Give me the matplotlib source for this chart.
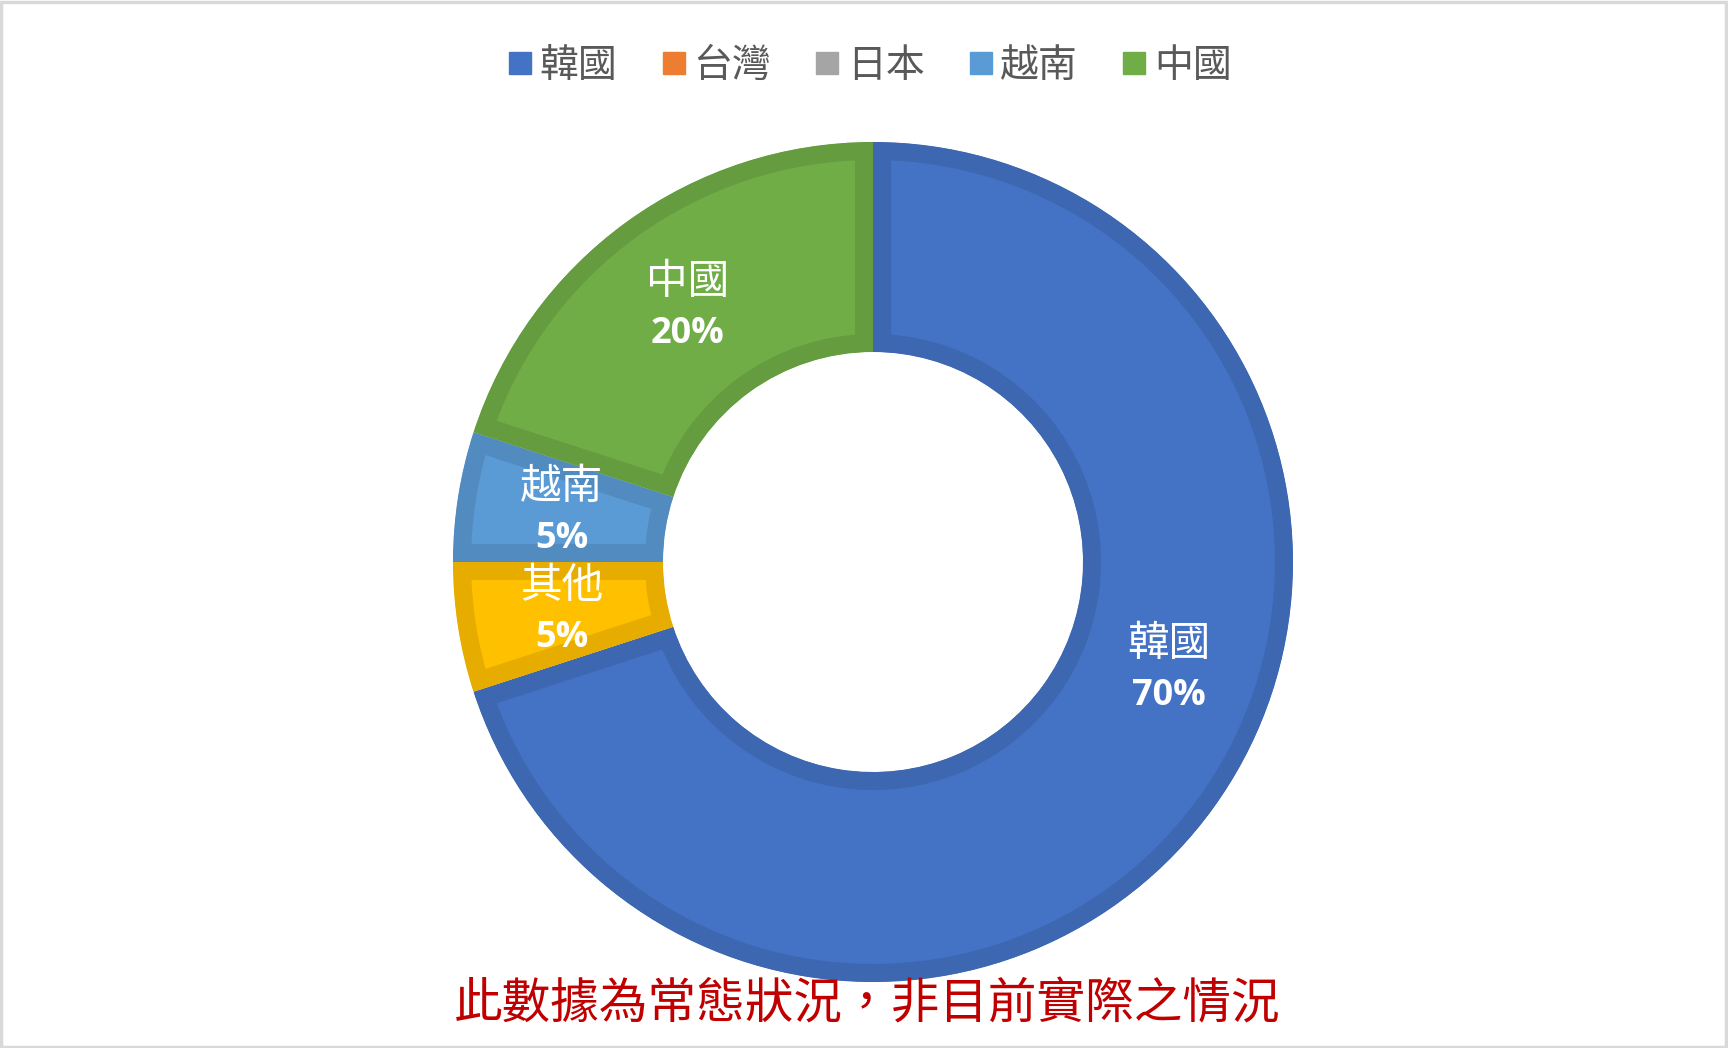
import matplotlib.pyplot as plt
import matplotlib.colors as mcolors
from matplotlib.patches import Rectangle
import numpy as np

plt.rcParams['font.family'] = ['Noto Sans CJK TC', 'DejaVu Sans']

# data (clockwise from 12 o'clock, Excel order)
categories = ['韓國', '台灣', '日本', '其他', '越南', '中國']
values = [70, 0, 0, 5, 5, 20]
colors = ['#4472C4', '#ED7D31', '#A5A5A5', '#FFC000', '#5B9BD5', '#70AD47']
legend_items = ['韓國', '台灣', '日本', '越南', '中國']
pct_labels = ['70%', '0%', '0%', '5%', '5%', '20%']
# the 韓國 label was dragged a bit away from the slice middle in the original
label_shift = {'韓國': 16}

W, H = 1728, 1048
fig = plt.figure(figsize=(W / 100, H / 100), dpi=100)
fig.patch.set_facecolor('white')

# chart frame
fig.patches.append(Rectangle((0.0008, 0.0012), 0.998, 0.997, transform=fig.transFigure,
                             facecolor='none', edgecolor='#D9D9D9', linewidth=2.5))

cx, cy, R = 873, 562, 420
ax = fig.add_axes([(cx - R) / W, (H - cy - R) / H, 2 * R / W, 2 * R / H])

shown = [i for i, v in enumerate(values) if v > 0]
wedges, _ = ax.pie([values[i] for i in shown], colors=[colors[i] for i in shown],
                   startangle=90, counterclock=False, radius=1.0,
                   wedgeprops=dict(width=0.5))


def darker(c, f=0.9):
    r, g, b = mcolors.to_rgb(c)
    return (r * f, g * f, b * f)


for w, i in zip(wedges, shown):
    # inner border: stroke twice as wide, clipped to the slice itself
    w.set_edgecolor(darker(colors[i]))
    w.set_linewidth(26)
    w.set_clip_on(True)
    w.set_clip_path(w)

    ang = (w.theta1 + w.theta2) / 2 + label_shift.get(categories[i], 0)
    lx = 0.75 * np.cos(np.radians(ang))
    ly = 0.75 * np.sin(np.radians(ang))
    ax.annotate(categories[i], (lx, ly), xytext=(0, 18), textcoords='offset points',
                ha='center', va='center', color='white', fontsize=30, fontweight='light')
    ax.annotate(pct_labels[i], (lx, ly), xytext=(0, -19), textcoords='offset points',
                ha='center', va='center', color='white', fontsize=26,
                fontweight='bold', family=['Open Sans', 'DejaVu Sans'])

ax.set_xlim(-1, 1)
ax.set_ylim(-1, 1)
ax.set_aspect('equal')
ax.axis('off')

# legend
handles = [plt.Line2D([], [], marker='s', linestyle='none', markersize=16,
                      markerfacecolor=colors[categories.index(n)],
                      markeredgecolor=colors[categories.index(n)])
           for n in legend_items]
fig.legend(handles, legend_items, loc='center', bbox_to_anchor=(870 / W, 1 - 66 / H),
           ncol=len(legend_items), frameon=False, labelcolor='#595959',
           prop=dict(size=28, weight='light'),
           handlelength=0.6, handletextpad=0.2, columnspacing=1.15)

fig.text(867 / W, 1 - 1005 / H, '此數據為常態狀況，非目前實際之情況', ha='center', va='center',
         color='#C00000', fontsize=35, style='italic')

fig.savefig('out.png', dpi=100, facecolor='white')
